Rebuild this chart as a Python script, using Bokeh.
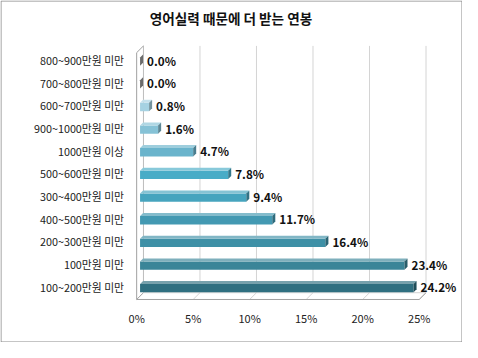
from bokeh.plotting import figure
from bokeh.models import Range1d, ColumnDataSource
from bokeh.core.properties import value
from bokeh.embed import file_html
from bokeh.resources import INLINE

title_text = "영어실력 때문에 더 받는 연봉"
categories = ["800~900만원 미만", "700~800만원 미만", "600~700만원 미만", "900~1000만원 미만",
              "1000만원 이상", "500~600만원 미만", "300~400만원 미만", "400~500만원 미만",
              "200~300만원 미만", "100만원 미만", "100~200만원 미만"]
values = [0.0, 0.0, 0.8, 1.6, 4.7, 7.8, 9.4, 11.7, 16.4, 23.4, 24.2]
x_ticks = [0, 5, 10, 15, 20, 25]
x_tick_labels = ["0%", "5%", "10%", "15%", "20%", "25%"]

face_colors = ["#9a9a9a", "#9a9a9a", "#a6d2e2", "#86c2d6", "#6ab4cc", "#48acc7",
               "#46a4be", "#4399b2", "#3e90a6", "#3a8598", "#2f6f80"]

W, H = 462, 342
# reference layout (478x358, frame 2..476 x 2..355) scaled into the figure
SX = (W - 1) / 474.0
SY = (H - 1) / 353.0

def rx(x):
    return (x - 2) * SX

def ry(y):
    return (y - 2) * SY

X0PX = rx(142)          # px of 0 %
XS = 11.62 * SX         # px per %
Y0PX = ry(310)          # px of category baseline
YS = 23.45 * SY         # px per category

def px_x(px):
    return (px - X0PX) / XS

def px_y(py):
    return (Y0PX - py) / YS

FONT = "Noto Sans CJK KR"

p = figure(width=W, height=H, output_backend="svg", toolbar_location=None,
           x_range=Range1d(px_x(0), px_x(W)), y_range=Range1d(px_y(H), px_y(0)),
           x_axis_location=None, y_axis_location=None,
           min_border=0)
p.outline_line_color = None
p.xgrid.grid_line_color = None
p.ygrid.grid_line_color = None
p.background_fill_color = "white"
p.border_fill_color = "white"

n = len(categories)
centers = [n - 1 - i + 0.5 for i in range(n)]

# 3D walls
DX = 7 * SX / XS
DY = 7 * SY / YS
vf = px_y(ry(311.5))
vb = vf + DY
vtop = px_y(ry(49))
grid_col = "#d4d4d4"
axis_col = "#a0a0a0"
for t in x_ticks[1:]:
    p.line([t + DX, t + DX], [vb, vtop], line_color=grid_col, line_width=1)
    p.line([t, t + DX], [vf, vb], line_color=grid_col, line_width=1)
p.line([DX, DX], [vb, vtop], line_color="#bdbdbd", line_width=1)
p.line([0, DX], [vf, vb], line_color=axis_col, line_width=1)
p.line([0, x_ticks[-1]], [vf, vf], line_color=axis_col, line_width=1)
p.line([x_ticks[-1], x_ticks[-1] + DX], [vf, vb], line_color=axis_col, line_width=1)
p.line([DX, x_ticks[-1] + DX], [vb, vb], line_color=grid_col, line_width=1)
p.line([0, 0], [vf, vtop - DY], line_color=axis_col, line_width=1)
p.line([0, DX], [vtop - DY, vtop], line_color=axis_col, line_width=1)

# bars
x0 = DX / 2
hb = 0.25
ht = 3 / YS
ct = 3 / XS

def shade(hexc, f):
    r, g, b = int(hexc[1:3], 16), int(hexc[3:5], 16), int(hexc[5:7], 16)
    if f > 1:
        r, g, b = [int(c + (255 - c) * (f - 1)) for c in (r, g, b)]
    else:
        r, g, b = [int(c * f) for c in (r, g, b)]
    return "#%02x%02x%02x" % (r, g, b)

for c, v, col in zip(centers, values, face_colors):
    if v > 0:
        p.quad(left=x0, right=x0 + v, bottom=c - hb, top=c + hb - ht,
               fill_color=col, line_color=None)
        p.patch([x0, x0 + v, x0 + v + ct, x0 + ct],
                [c + hb - ht, c + hb - ht, c + hb, c + hb],
                fill_color=shade(col, 1.35), line_color=None)
    p.patch([x0 + v, x0 + v + ct, x0 + v + ct, x0 + v],
            [c - hb, c - hb + ht, c + hb, c + hb - ht],
            fill_color=shade(col, 0.7), line_color=None)

# value labels
src = ColumnDataSource(dict(x=[x0 + v + ct for v in values], y=centers,
                            t=["%.1f%%" % v for v in values]))
p.text(x="x", y="y", text="t", source=src, x_offset=4, text_baseline="middle",
       text_align="left", text_font=value(FONT), text_font_style="bold",
       text_font_size="11.7px", text_color="#111111")

# category labels (y axis)
p.text(x=[px_x(rx(129))] * n, y=centers, text=categories, text_align="right",
       text_baseline="middle", text_font=value(FONT), text_font_size="10.8px",
       text_color="#222222")

# tick labels (x axis)
p.text(x=x_ticks, y=[px_y(ry(331))] * len(x_ticks), text=x_tick_labels,
       text_align="center", text_baseline="middle", text_font=value(FONT),
       text_font_size="11px", text_color="#222222")

# title
p.text(x=[px_x(rx(239))], y=[px_y(ry(20))], text=[title_text], text_align="center",
       text_baseline="middle", text_font=value(FONT), text_font_size="13.6px",
       text_font_style="bold", text_color="#111111")

# outer border
p.line([px_x(0.5), px_x(W - 0.5), px_x(W - 0.5), px_x(0.5), px_x(0.5)],
       [px_y(0.5), px_y(0.5), px_y(H - 0.5), px_y(H - 0.5), px_y(0.5)],
       line_color="#8a8a8a", line_width=1)

open("out.html", "w").write(file_html(p, INLINE))
